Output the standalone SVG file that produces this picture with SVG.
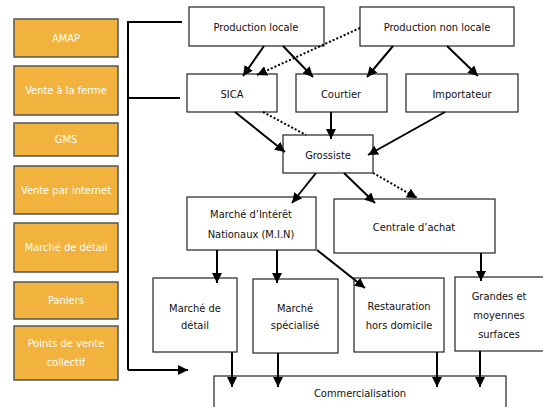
<svg xmlns="http://www.w3.org/2000/svg" width="543" height="407" viewBox="0 0 543 407">
<style>
.ob{fill:#f1b23e;stroke:#555;stroke-width:1.5}
.ot{fill:#fff;font-family:"Liberation Sans Narrow","DejaVu Sans Condensed","Liberation Sans",sans-serif;font-size:11px;text-anchor:middle;dominant-baseline:central}
.nb{fill:#fff;stroke:#222;stroke-width:1.2}
.nt{fill:#111;font-family:"Liberation Sans Narrow","DejaVu Sans Condensed","Liberation Sans",sans-serif;font-size:11px;text-anchor:middle;dominant-baseline:central}
.c{fill:none;stroke:#000;stroke-width:2}
.a{marker-end:url(#ah)}
.d{stroke-dasharray:2 2}
</style>
<defs>
<marker id="ah" markerUnits="userSpaceOnUse" markerWidth="12" markerHeight="10" refX="10" refY="5" orient="auto">
<path d="M0,0 L10,5 L0,10 Z" fill="#000"/>
</marker>
</defs>
<g id="left">
<g id="amap"><rect class="ob" x="14" y="19" width="104" height="38"/><text class="ot" x="66" y="38">AMAP</text></g>
<g id="ferme"><rect class="ob" x="14" y="66" width="104" height="49"/><text class="ot" x="66" y="90">Vente à la ferme</text></g>
<g id="gms"><rect class="ob" x="14" y="123" width="104" height="33"/><text class="ot" x="66" y="139.5">GMS</text></g>
<g id="internet"><rect class="ob" x="14" y="166" width="104" height="48"/><text class="ot" x="66" y="190">Vente par internet</text></g>
<g id="detail-l"><rect class="ob" x="14" y="223" width="104" height="49"/><text class="ot" x="66" y="247">Marché de détail</text></g>
<g id="paniers"><rect class="ob" x="14" y="282" width="104" height="37"/><text class="ot" x="66" y="300">Paniers</text></g>
<g id="pvc"><rect class="ob" x="14" y="326" width="104" height="54"/><text class="ot" x="66" y="343">Points de vente</text><text class="ot" x="66" y="362">collectif</text></g>
</g>
<g id="prod-locale"><rect class="nb" x="189" y="7" width="135" height="39"/><text class="nt" x="256" y="27">Production locale</text></g>
<g id="prod-non-locale"><rect class="nb" x="360" y="7" width="154" height="39"/><text class="nt" x="437" y="27">Production non locale</text></g>
<g id="sica"><rect class="nb" x="187" y="74" width="90" height="38"/><text class="nt" x="232" y="94">SICA</text></g>
<g id="courtier"><rect class="nb" x="296" y="74" width="91" height="38"/><text class="nt" x="341" y="94">Courtier</text></g>
<g id="importateur"><rect class="nb" x="406" y="74" width="112" height="38"/><text class="nt" x="462" y="94">Importateur</text></g>
<g id="grossiste"><rect class="nb" x="283" y="135" width="90" height="38"/><text class="nt" x="328" y="155">Grossiste</text></g>
<g id="min"><rect class="nb" x="187" y="197" width="129" height="53"/><text class="nt" x="251" y="214">Marché d’Intérêt</text><text class="nt" x="251" y="234">Nationaux (M.I.N)</text></g>
<g id="centrale"><rect class="nb" x="334" y="199" width="161" height="54"/><text class="nt" x="414" y="227">Centrale d’achat</text></g>
<g id="marche-detail"><rect class="nb" x="153" y="278" width="84" height="74"/><text class="nt" x="195" y="308">Marché de</text><text class="nt" x="195" y="325">détail</text></g>
<g id="marche-specialise"><rect class="nb" x="253" y="279" width="85" height="74"/><text class="nt" x="295" y="308">Marché</text><text class="nt" x="295" y="325">spécialisé</text></g>
<g id="restauration"><rect class="nb" x="354" y="278" width="90" height="74"/><text class="nt" x="399" y="306">Restauration</text><text class="nt" x="399" y="325">hors domicile</text></g>
<g id="gms-node"><rect class="nb" x="455" y="277" width="92" height="74"/><text class="nt" x="499" y="296">Grandes et</text><text class="nt" x="499" y="315">moyennes</text><text class="nt" x="499" y="334">surfaces</text></g>
<g id="commercialisation"><rect class="nb" x="214" y="376" width="292" height="40"/><text class="nt" x="360" y="393">Commercialisation</text></g>
<g id="connectors">
<path class="c" d="M182,22 H128 V370"/>
<path class="c" d="M180,98 H128"/>
<path class="c a" d="M128,370 H188"/>
<path class="c a" d="M264,46 L243,76"/>
<path class="c a" d="M283,46 L313,77"/>
<path class="c d a" d="M360,28 L257,75"/>
<path class="c a" d="M393,46 L367,77"/>
<path class="c a" d="M447,46 L478,76"/>
<path class="c a" d="M235,112 L285,152"/>
<path class="c d" d="M263,112 L306,135"/>
<path class="c a" d="M331,112 V139"/>
<path class="c a" d="M445,112 L368,155"/>
<path class="c a" d="M316,173 L292,203"/>
<path class="c a" d="M344,173 L375,203"/>
<path class="c d a" d="M373,173 L417,198"/>
<path class="c a" d="M217,250 V283"/>
<path class="c a" d="M277,250 V283"/>
<path class="c a" d="M317,250 L365,288"/>
<path class="c a" d="M481,253 V281"/>
<path class="c a" d="M232,352 V387"/>
<path class="c a" d="M278,353 V387"/>
<path class="c a" d="M437,352 V387"/>
<path class="c a" d="M480,351 V387"/>
</g>
</svg>
